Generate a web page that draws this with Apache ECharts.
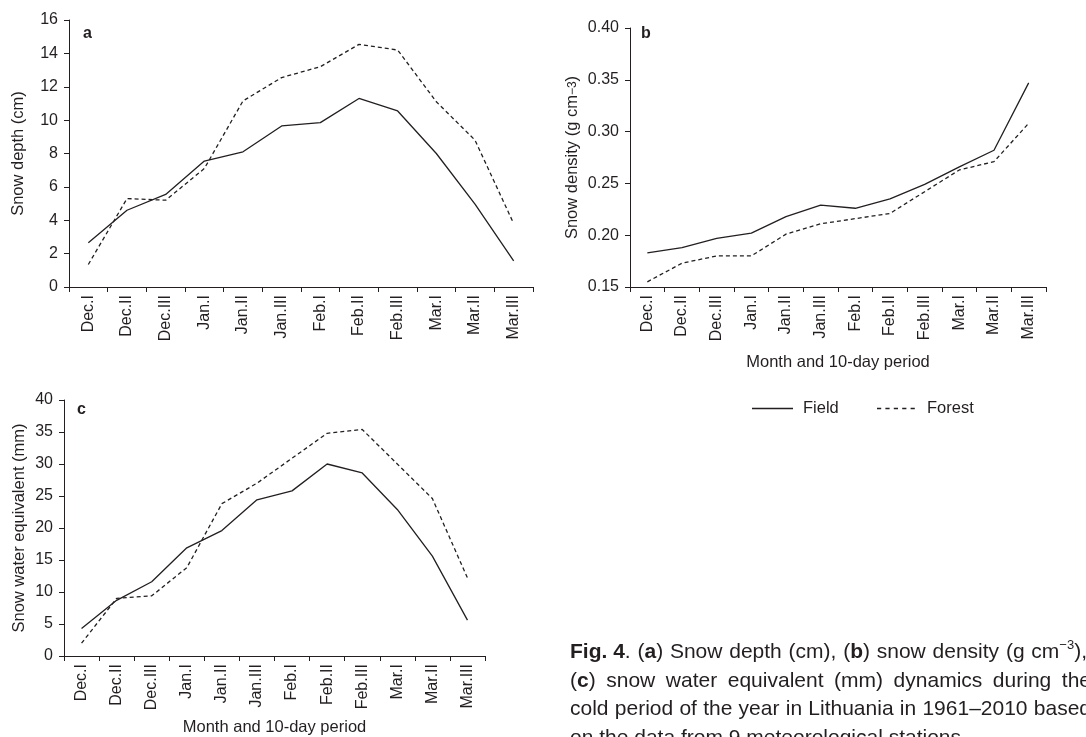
<!DOCTYPE html>
<html>
<head>
<meta charset="utf-8">
<script src="https://cdn.jsdelivr.net/npm/echarts@6/dist/echarts.min.js"></script>
<style>
  html, body { margin: 0; padding: 0; background: #fff; }
  #chart { width: 1086px; height: 737px; }
</style>
</head>
<body>
<div id="chart"></div>
<script>
// Ten-day periods of the cold season
const periods = ['Dec.I', 'Dec.II', 'Dec.III', 'Jan.I', 'Jan.II', 'Jan.III',
                 'Feb.I', 'Feb.II', 'Feb.III', 'Mar.I', 'Mar.II', 'Mar.III'];

// (a) Snow depth, cm
const depthField  = [2.65, 4.6, 5.55, 7.55, 8.1, 9.65, 9.85, 11.3, 10.55, 8.0, 4.97, 1.56];
const depthForest = [1.35, 5.3, 5.2, 7.1, 11.15, 12.55, 13.2, 14.54, 14.2, 11.1, 8.8, 3.8];

// (b) Snow density, g cm-3
const densityField  = [0.183, 0.188, 0.197, 0.202, 0.218, 0.229, 0.226, 0.235, 0.249, 0.266, 0.282, 0.347];
const densityForest = [0.155, 0.173, 0.180, 0.180, 0.201, 0.211, 0.216, 0.221, 0.242, 0.263, 0.271, 0.308];

// (c) Snow water equivalent, mm
const sweField  = [4.3, 8.7, 11.6, 16.9, 19.6, 24.4, 25.8, 30.0, 28.6, 22.9, 15.6, 5.6];
const sweForest = [2.0, 9.0, 9.4, 13.8, 23.8, 27.0, 30.9, 34.8, 35.4, 30.0, 24.6, 12.2];

const seriesNames = ['Field', 'Forest'];

// Figure caption, one entry per printed line; each word is a list of [text, style] runs
const captionLines = [
  [[['Fig. 4', 'b'], ['.', 'n']], [['(', 'n'], ['a', 'b'], [')', 'n']], [['Snow', 'n']], [['depth', 'n']],
   [['(cm),', 'n']], [['(', 'n'], ['b', 'b'], [')', 'n']], [['snow', 'n']], [['density', 'n']],
   [['(g', 'n']], [['cm', 'n'], ['\u22123', 's'], ['),', 'n']], [['and', 'n']]],
  [[['(', 'n'], ['c', 'b'], [')', 'n']], [['snow', 'n']], [['water', 'n']], [['equivalent', 'n']],
   [['(mm)', 'n']], [['dynamics', 'n']], [['during', 'n']], [['the', 'n']]],
  [[['cold', 'n']], [['period', 'n']], [['of', 'n']], [['the', 'n']], [['year', 'n']], [['in', 'n']],
   [['Lithuania', 'n']], [['in', 'n']], [['1961\u20132010', 'n']], [['based', 'n']]],
  [[['on', 'n']], [['the', 'n']], [['data', 'n']], [['from', 'n']], [['9', 'n']],
   [['meteorological', 'n']], [['stations.', 'n']]]
];
// Word spacing of each caption line: [index of the word whose right edge is fixed, that edge's x]
const captionSpread = [[9, 1087], [7, 1091], [9, 1091], null];

const INK = '#231f20';
const FONT = "'Liberation Sans', Arial, Helvetica, sans-serif";
const CAP_SIZE = 21;
const capFonts = {
  n: CAP_SIZE + 'px ' + FONT,
  b: 'bold ' + CAP_SIZE + 'px ' + FONT,
  s: '13px ' + FONT
};

const chart = echarts.init(document.getElementById('chart'), null, { renderer: 'canvas' });

function xAxisFor(gridIndex, withName, nameGap) {
  return {
    type: 'category',
    gridIndex: gridIndex,
    data: periods,
    boundaryGap: true,
    axisLine: { lineStyle: { color: INK, width: 1 } },
    axisTick: { show: true, length: 5, lineStyle: { color: INK } },
    axisLabel: { rotate: 90, color: INK, fontFamily: FONT, fontSize: 16, margin: 8, interval: 0 },
    splitLine: { show: false },
    name: withName ? 'Month and 10-day period' : '',
    nameLocation: 'middle',
    nameGap: nameGap,
    nameTextStyle: { color: INK, fontFamily: FONT, fontSize: 16.5 }
  };
}

function yAxisFor(gridIndex, min, max, interval, name, nameGap, fmt, rich) {
  return {
    type: 'value',
    gridIndex: gridIndex,
    min: min, max: max, interval: interval,
    axisLine: { show: true, lineStyle: { color: INK, width: 1 } },
    axisTick: { show: true, length: 5, lineStyle: { color: INK } },
    axisLabel: { color: INK, fontFamily: FONT, fontSize: 16, margin: 11, formatter: fmt },
    splitLine: { show: false },
    name: name,
    nameLocation: 'middle',
    nameGap: nameGap,
    nameTextStyle: { color: INK, fontFamily: FONT, fontSize: 16.5, rich: rich }
  };
}

function lineSeries(name, xi, yi, data, dashed) {
  return {
    name: name,
    type: 'line',
    xAxisIndex: xi,
    yAxisIndex: yi,
    data: data,
    symbol: 'none',
    smooth: false,
    silent: true,
    lineStyle: { color: INK, width: 1.3, type: dashed ? [4, 3] : 'solid' },
    itemStyle: { color: INK }
  };
}

const panelLetter = (text, left, top) => ({
  type: 'text', left: left, top: top,
  style: { text: text, fill: INK, font: 'bold 16px ' + FONT }
});

// Caption set word by word; spacing is stretched so a chosen word ends at a chosen x
const measureCtx = document.createElement('canvas').getContext('2d');
function runWidth(run) {
  measureCtx.font = capFonts[run[1]];
  return measureCtx.measureText(run[0]).width;
}
function captionGraphics(x0, top0, lineStep) {
  const out = [];
  measureCtx.font = capFonts.n;
  const space = measureCtx.measureText(' ').width;
  captionLines.forEach((words, li) => {
    const wWidths = words.map(w => w.reduce((s, r) => s + runWidth(r), 0));
    const spread = captionSpread[li];
    let gap = space;
    if (spread) {
      const k = spread[0];
      const used = wWidths.slice(0, k + 1).reduce((a, b) => a + b, 0);
      gap = (spread[1] - x0 - used) / k;
    }
    let x = x0;
    const top = top0 + li * lineStep;
    words.forEach((w, wi) => {
      let rx = x;
      w.forEach(r => {
        out.push({
          type: 'text', x: rx, y: r[1] === 's' ? top - 3 : top,
          style: { text: r[0], fill: INK, font: capFonts[r[1]], textVerticalAlign: 'top' }
        });
        rx += runWidth(r);
      });
      x += wWidths[wi] + gap;
    });
  });
  return out;
}

// Legend key drawn as short line samples next to series names
const legendGraphics = [
  { type: 'line', shape: { x1: 752, y1: 408.5, x2: 793, y2: 408.5 },
    style: { stroke: INK, lineWidth: 1.3 } },
  { type: 'text', x: 803, y: 400, style: { text: seriesNames[0], fill: INK, font: '16.5px ' + FONT, textVerticalAlign: 'top' } },
  { type: 'line', shape: { x1: 877, y1: 408.5, x2: 916, y2: 408.5 },
    style: { stroke: INK, lineWidth: 1.3, lineDash: [4.2, 4.2] } },
  { type: 'text', x: 927, y: 400, style: { text: seriesNames[1], fill: INK, font: '16.5px ' + FONT, textVerticalAlign: 'top' } }
];

const graphics = [
  panelLetter('a', 83, 26),
  panelLetter('b', 641, 26),
  panelLetter('c', 77, 402),
  ...legendGraphics,
  ...captionGraphics(570, 642, 28.5)
];

const option = {
  backgroundColor: '#ffffff',
  animation: false,
  textStyle: { fontFamily: FONT, color: INK },
  grid: [
    { left: 69, right: 553, top: 20, bottom: 450 },
    { left: 630, right: 40, top: 28, bottom: 450 },
    { left: 64, right: 601, top: 400, bottom: 78 }
  ],
  xAxis: [
    xAxisFor(0, false, 0),
    xAxisFor(1, true, 67),
    xAxisFor(2, true, 63)
  ],
  yAxis: [
    yAxisFor(0, 0, 16, 2, 'Snow depth (cm)', 42, v => String(v)),
    yAxisFor(1, 0.15, 0.40, 0.05, 'Snow density (g cm{sup|\u22123})', 49, v => v.toFixed(2),
      { sup: { fontSize: 12, fontFamily: FONT, color: INK } }),
    yAxisFor(2, 0, 40, 5, 'Snow water equivalent (mm)', 36, v => String(v))
  ],
  series: [
    lineSeries(seriesNames[0], 0, 0, depthField, false),
    lineSeries(seriesNames[1], 0, 0, depthForest, true),
    lineSeries(seriesNames[0], 1, 1, densityField, false),
    lineSeries(seriesNames[1], 1, 1, densityForest, true),
    lineSeries(seriesNames[0], 2, 2, sweField, false),
    lineSeries(seriesNames[1], 2, 2, sweForest, true)
  ],
  graphic: graphics
};

chart.setOption(option);
</script>
</body>
</html>
